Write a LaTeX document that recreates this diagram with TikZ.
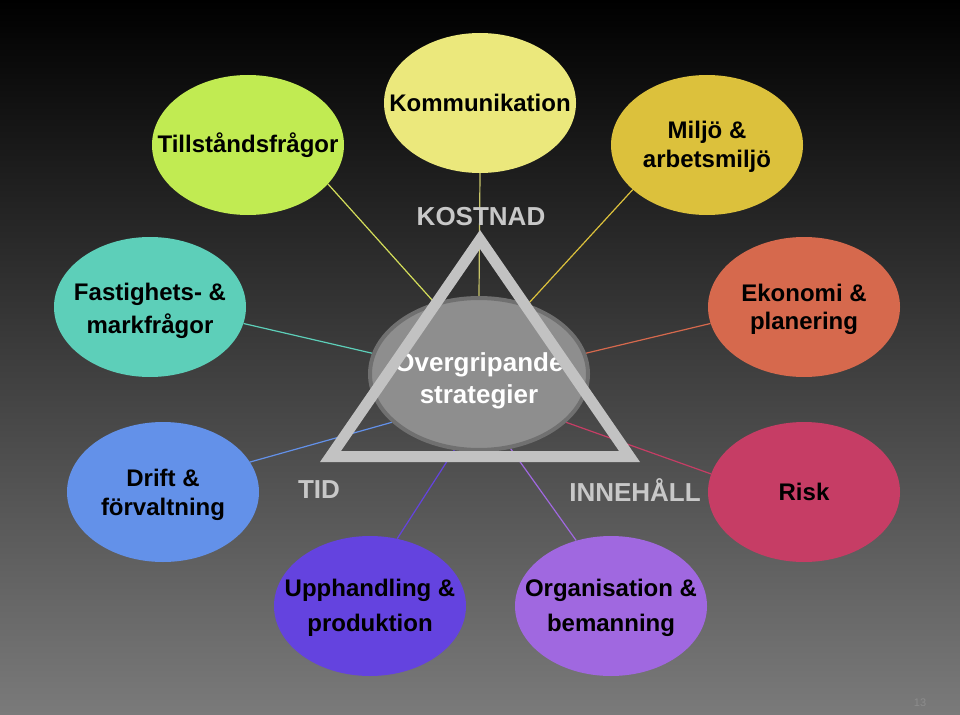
\documentclass[tikz,border=0pt]{standalone}
\usepackage{fontspec}
\setmainfont{Liberation Sans}
\usetikzlibrary{shapes.geometric}
\pgfdeclarelayer{bg}
\pgfdeclarelayer{lines}
\pgfsetlayers{bg,lines,main}
\definecolor{bgbot}{HTML}{7A7A7A}
\definecolor{kom}{HTML}{EBE87C}
\definecolor{till}{HTML}{C1EB52}
\definecolor{milj}{HTML}{DCC13C}
\definecolor{fast}{HTML}{5DCFB9}
\definecolor{ekon}{HTML}{D6694D}
\definecolor{drift}{HTML}{6391E9}
\definecolor{risk}{HTML}{C63D65}
\definecolor{upph}{HTML}{6443DF}
\definecolor{org}{HTML}{A068E0}
\definecolor{lblgray}{HTML}{C8C8C8}
\definecolor{tri}{HTML}{C2C2C2}
\definecolor{cfill}{HTML}{8E8E8E}
\definecolor{cdraw}{HTML}{707070}
\definecolor{pgnum}{HTML}{8C8C8C}
\newcommand\lbltab[1]{\begin{tabular}{@{}c@{}}#1\end{tabular}}
\newcommand\twoline[3]{\makebox[0pt]{\smash{\raisebox{-#1}{\lbltab{#3}}}\vphantom{\lbltab{#3}}}}
\newcommand\oneline[1]{\makebox[0pt]{#1}}
\tikzset{
  bubble/.style={ellipse, minimum width=192pt, minimum height=140pt, inner sep=0pt,
    text=black, font=\fontsize{24}{30}\selectfont\bfseries},
  conn/.style={line width=1.2pt},
  corner/.style={text=lblgray, font=\fontsize{26}{30}\selectfont\bfseries}
}
\begin{document}
\begin{tikzpicture}[x=1pt,y=-1pt]
\useasboundingbox (0,0) rectangle (960,714);
\begin{pgfonlayer}{bg}
\shade[top color=black, bottom color=bgbot] (0,0) rectangle (960,714);
\end{pgfonlayer}

\node[bubble, fill=kom] (kom) at (480,103) {\oneline{Kommunikation}};
\node[bubble, fill=till] (till) at (248,145) {\oneline{Tillståndsfrågor}};
\node[bubble, fill=milj, font=\fontsize{24}{29}\selectfont\bfseries] (milj) at (707,145)
  {\twoline{2pt}{}{Miljö \&\\arbetsmiljö}};
\node[bubble, fill=fast, font=\fontsize{24}{32.6}\selectfont\bfseries] (fast) at (150,307)
  {\twoline{3.5pt}{}{Fastighets- \&\\markfrågor}};
\node[bubble, fill=ekon, font=\fontsize{24}{28}\selectfont\bfseries] (ekon) at (804,307)
  {\twoline{3pt}{}{Ekonomi \&\\planering}};
\node[bubble, fill=drift, font=\fontsize{24}{28.3}\selectfont\bfseries] (drift) at (163,492)
  {\twoline{3.2pt}{}{Drift \&\\förvaltning}};
\node[bubble, fill=risk] (risk) at (804,492) {\oneline{Risk}};
\node[bubble, fill=upph, font=\fontsize{24}{35}\selectfont\bfseries] (upph) at (370,606)
  {\twoline{1.2pt}{}{Upphandling \&\\produktion}};
\node[bubble, fill=org, font=\fontsize{24}{35}\selectfont\bfseries] (org) at (611,606)
  {\twoline{1.2pt}{}{Organisation \&\\bemanning}};

\node[ellipse, minimum width=218pt, minimum height=152pt, inner sep=0pt,
  fill=cfill, draw=cdraw, line width=4pt, text=white,
  font=\fontsize{26}{31.6}\selectfont\bfseries] (c) at (479,374)
  {\twoline{7.2pt}{}{Övergripande\\strategier}};

\begin{pgfonlayer}{lines}
\draw[conn, draw=kom!85!black] (kom.south) -- (c.north);
\draw[conn, draw={rgb,255:red,212;green,222;blue,90}] (till.-26) -- (c.122);
\draw[conn, draw=milj] (milj.211) -- (c.55);
\draw[conn, draw=fast] (fast.-10) -- (c.169);
\draw[conn, draw=ekon] (ekon.190) -- (c.11);
\draw[conn, draw=drift] (drift.19) -- (c.209);
\draw[conn, draw=risk] (risk.169) -- (c.-29);
\draw[conn, draw=upph] (upph.68) -- (c.252);
\draw[conn, draw=org] (org.118) -- (c.293);
\end{pgfonlayer}

\fill[tri, even odd rule] (480,230) -- (320,462) -- (640,462) -- cycle
  (480,249) -- (341,451) -- (619,451) -- cycle;

\node[corner] (kost) at (481,217) {KOSTNAD};
\node[corner] (tid) at (319,490) {TID};
\node[corner] (inne) at (635,490) {INNEHÅLL};
\node[text=pgnum, font=\fontsize{11}{12}\selectfont] (pg) at (920,703) {13};
\end{tikzpicture}
\end{document}
